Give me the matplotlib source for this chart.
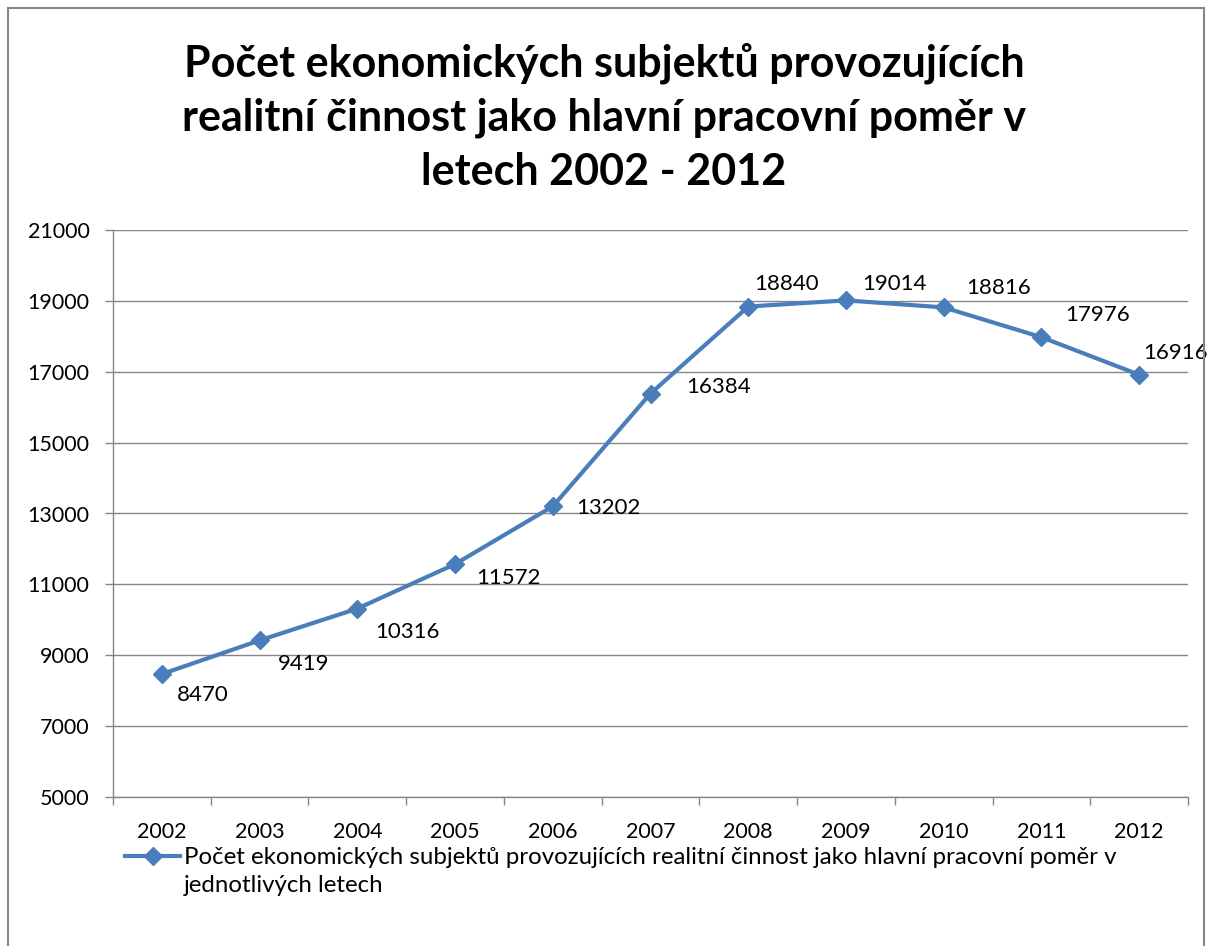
import matplotlib
matplotlib.use("Agg")
import matplotlib.pyplot as plt
from matplotlib.patches import Rectangle

# data
years = ["2002", "2003", "2004", "2005", "2006", "2007",
         "2008", "2009", "2010", "2011", "2012"]
counts = [8470, 9419, 10316, 11572, 13202, 16384,
          18840, 19014, 18816, 17976, 16916]
y_ticks = [5000, 7000, 9000, 11000, 13000, 15000, 17000, 19000, 21000]

title = ("Počet ekonomických subjektů provozujících\n"
         "realitní činnost jako hlavní pracovní poměr v\n"
         "letech 2002 - 2012")
series_label = ("Počet ekonomických subjektů provozujících realitní činnost "
                "jako hlavní pracovní poměr v")
series_label_2 = "jednotlivých letech"

# label offsets in points (style only)
label_offsets = [(11, -15), (13, -17), (13, -17), (15, -10), (17, -1),
                 (26, 5), (4, 16), (12, 12), (16, 14), (17, 16), (3, 16)]

LINE_COLOR = "#4A7EBB"
GRID_COLOR = "#868686"

plt.rcParams["font.family"] = ["Lato", "DejaVu Sans"]

fig = plt.figure(figsize=(12.08, 9.46), dpi=100)
ax = fig.add_axes([113 / 1208, 1 - 797 / 946, (1188 - 113) / 1208, (797 - 230) / 946])

x = list(range(len(years)))
ax.plot(x, counts, color=LINE_COLOR, lw=3, marker="D", markersize=9,
        markerfacecolor=LINE_COLOR, markeredgecolor=LINE_COLOR,
        label=series_label, zorder=3)

for xi, v, off in zip(x, counts, label_offsets):
    ax.annotate(str(v), (xi, v), xytext=off, textcoords="offset points",
                ha="left", va="center", fontsize=16, color="#000000")

ax.set_xlim(-0.5, len(years) - 0.5)
ax.set_ylim(5000, 21000)
ax.set_yticks(y_ticks)
ax.set_yticklabels([str(t) for t in y_ticks])
ax.set_xticks(x)
ax.set_xticklabels(years)
ax.set_xticks([i - 0.5 for i in range(len(years) + 1)], minor=True)
ax.tick_params(axis="x", which="major", length=0, labelsize=15.5, pad=18)
ax.tick_params(axis="x", which="minor", length=6, color=GRID_COLOR, width=1)
ax.tick_params(axis="y", which="major", length=6, color=GRID_COLOR, width=1,
               labelsize=15.5, pad=11)

ax.grid(axis="y", color=GRID_COLOR, lw=1)
ax.set_axisbelow(True)
for side in ["top", "right"]:
    ax.spines[side].set_visible(False)
for side in ["left", "bottom"]:
    ax.spines[side].set_color(GRID_COLOR)
    ax.spines[side].set_linewidth(1)

fig.text(0.5, 1 - 117 / 946, title, ha="center", va="center",
         fontsize=31, fontweight="bold", linespacing=1.42)

leg = ax.legend(loc="center left", bbox_to_anchor=(125 / 1208, 1 - 858 / 946),
                bbox_transform=fig.transFigure, frameon=False, fontsize=17.3,
                handlelength=2.3, handletextpad=0.15, borderaxespad=0,
                borderpad=0)

# second line of the wrapped legend entry
fig.canvas.draw()
bb = leg.get_texts()[0].get_window_extent()
fig.text(bb.x0 / 1208, 1 - 886 / 946, series_label_2, ha="left", va="center",
         fontsize=17.3)

fig.patches.append(Rectangle((8 / 1208, -0.05), (1204 - 8) / 1208, 1.05 - 8 / 946,
                             transform=fig.transFigure, fill=False,
                             edgecolor="#868686", lw=1.5))

fig.savefig("out.png", dpi=100)
